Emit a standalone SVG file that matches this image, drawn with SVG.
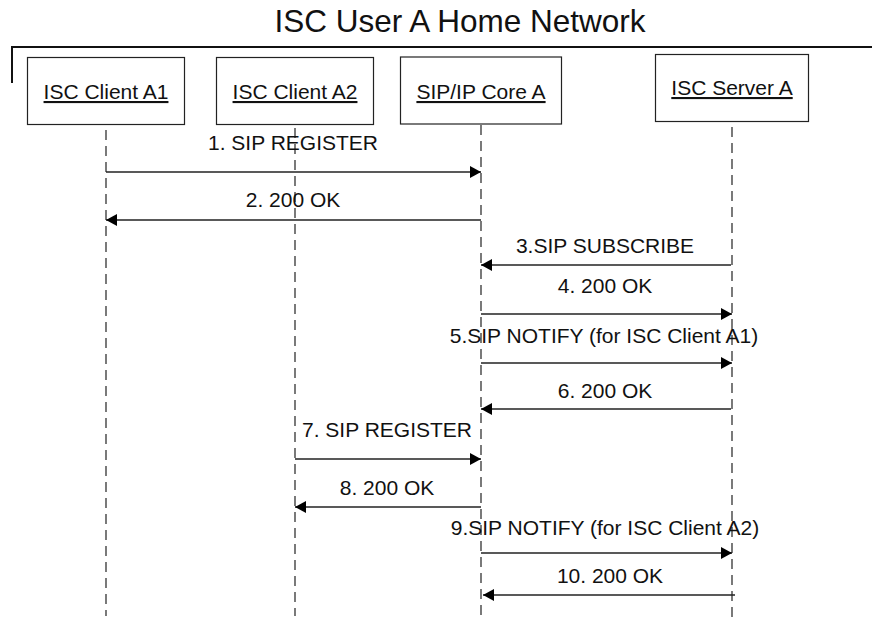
<svg xmlns="http://www.w3.org/2000/svg" width="872" height="623" viewBox="0 0 872 623">
<style>
  text { font-family: "Liberation Sans", Arial, sans-serif; fill: #111; }
  .title { font-size: 31.5px; }
  .lbl { font-size: 21px; text-anchor: middle; }
  .node rect { fill: #fff; stroke: #222; stroke-width: 1.2; }
  .node text { font-size: 21px; text-anchor: middle; text-decoration: underline; }
  .life { stroke: #222; stroke-width: 1.2; stroke-dasharray: 10 6; fill: none; }
  .msg { stroke: #222; stroke-width: 1.5; fill: none; marker-end: url(#ah); }
  .frame { stroke: #111; stroke-width: 2; fill: none; }
</style>
<defs>
  <marker id="ah" markerUnits="userSpaceOnUse" markerWidth="12" markerHeight="12" refX="11" refY="6" orient="auto">
    <path d="M0,0 L11,6 L0,12 z" fill="#000"/>
  </marker>
</defs>
<rect width="872" height="623" fill="#fff"/>
<text class="title" x="460" y="32" text-anchor="middle">ISC User A Home Network</text>
<path class="frame" d="M12,83 V47 H872"/>

<g id="lifelines">
  <line class="life" x1="106" y1="130" x2="106" y2="616"/>
  <line class="life" x1="295" y1="128" x2="295" y2="616"/>
  <line class="life" x1="481" y1="125" x2="481" y2="616"/>
  <line class="life" x1="732" y1="127" x2="732" y2="623"/>
</g>

<g id="client-a1" class="node">
  <rect x="27.5" y="57.5" width="157" height="67"/>
  <text x="106" y="99">ISC Client A1</text>
</g>
<g id="client-a2" class="node">
  <rect x="216.5" y="57.5" width="157" height="67"/>
  <text x="295" y="99">ISC Client A2</text>
</g>
<g id="core-a" class="node">
  <rect x="400.5" y="57" width="161" height="67"/>
  <text x="481" y="99">SIP/IP Core A</text>
</g>
<g id="server-a" class="node">
  <rect x="655.5" y="54.5" width="153" height="67"/>
  <text x="732" y="95">ISC Server A</text>
</g>

<g id="connectors">
  <line class="msg" x1="106" y1="172" x2="481" y2="172"/>
  <text class="lbl" x="293" y="150">1. SIP REGISTER</text>
  <line class="msg" x1="481" y1="220" x2="106" y2="220"/>
  <text class="lbl" x="293" y="207">2. 200 OK</text>
  <line class="msg" x1="731" y1="265" x2="481" y2="265"/>
  <text class="lbl" x="605" y="253">3.SIP SUBSCRIBE</text>
  <line class="msg" x1="481" y1="314" x2="732" y2="314"/>
  <text class="lbl" x="605" y="293">4. 200 OK</text>
  <line class="msg" x1="481" y1="363" x2="732" y2="363"/>
  <text class="lbl" x="604" y="343">5.SIP NOTIFY (for ISC Client A1)</text>
  <line class="msg" x1="731" y1="409" x2="481" y2="409"/>
  <text class="lbl" x="605" y="398">6. 200 OK</text>
  <line class="msg" x1="295" y1="459" x2="481" y2="459"/>
  <text class="lbl" x="387" y="437">7. SIP REGISTER</text>
  <line class="msg" x1="481" y1="507" x2="295" y2="507"/>
  <text class="lbl" x="387" y="495">8. 200 OK</text>
  <line class="msg" x1="481" y1="553" x2="732" y2="553"/>
  <text class="lbl" x="605" y="535">9.SIP NOTIFY (for ISC Client A2)</text>
  <line class="msg" x1="735" y1="595" x2="483" y2="595"/>
  <text class="lbl" x="610" y="583">10. 200 OK</text>
</g>
</svg>
